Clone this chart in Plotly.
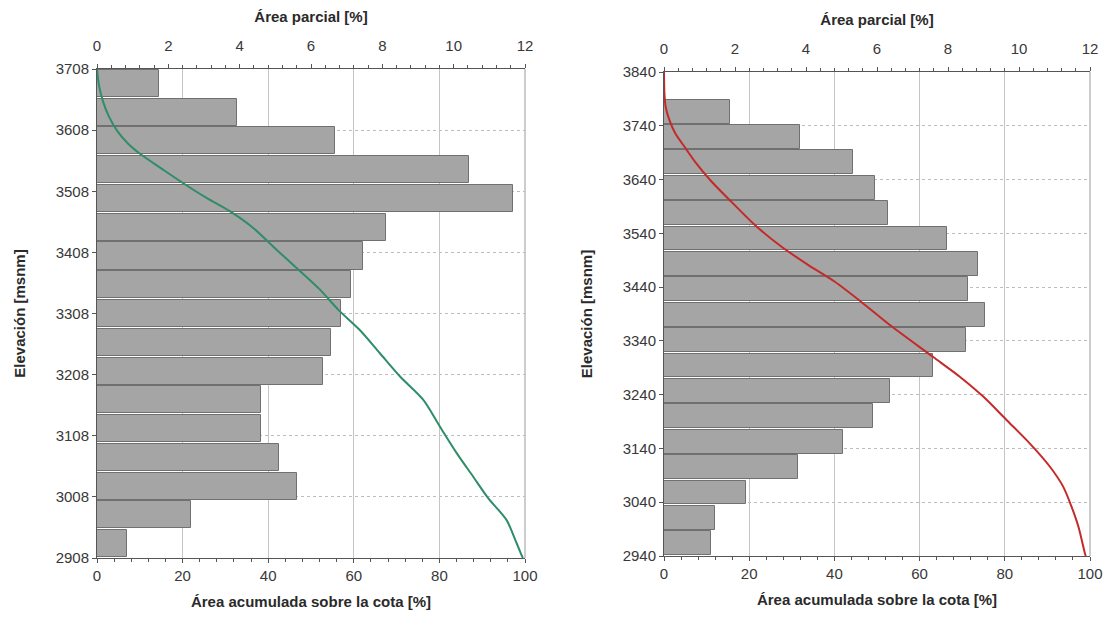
import plotly.graph_objects as go

# ---------------- data ----------------
# Left basin: partial area per elevation band (bars), band centres [msnm]
elev_bins_L = [3684.5, 3637.4, 3590.4, 3543.3, 3496.2, 3449.2, 3402.1, 3355.1, 3308.0,
               3260.9, 3213.9, 3166.8, 3119.8, 3072.7, 3025.6, 2978.6, 2931.5]
partial_L = [1.73, 3.92, 6.68, 10.43, 11.65, 8.10, 7.47, 7.12, 6.83,
             6.56, 6.34, 4.60, 4.60, 5.11, 5.62, 2.63, 0.83]
# Left basin: cumulative area above elevation (curve)
elev_cum_L = [3708, 3680, 3655, 3630, 3606, 3585, 3568, 3543, 3519, 3497, 3475, 3448, 3412, 3382, 3347,
              3314, 3281, 3243, 3205, 3167, 3123, 3080, 3041, 3006, 2970, 2938, 2916, 2908]
cum_L = [0, 0.5, 1.4, 2.8, 4.8, 7.4, 10.3, 15.5, 20.6, 25.6, 31.1, 36.5, 42.0, 46.7, 52.1,
         56.4, 61.4, 66.1, 70.8, 76.2, 80.1, 84.0, 87.9, 91.4, 95.7, 97.7, 99.0, 99.5]

# Right basin
elev_bins_R = [3766.4, 3719.2, 3671.9, 3624.7, 3577.5, 3530.3, 3483.1, 3435.8, 3388.6,
               3341.4, 3294.2, 3247.0, 3199.7, 3152.5, 3105.3, 3058.1, 3010.9, 2963.6]
partial_R = [1.87, 3.83, 5.31, 5.93, 6.32, 7.97, 8.84, 8.56, 9.04,
             8.52, 7.58, 6.37, 5.88, 5.05, 3.78, 2.30, 1.43, 1.31]
elev_cum_R = [3840, 3800, 3775, 3750, 3725, 3700, 3673, 3636, 3598, 3555, 3515, 3481, 3450, 3412,
              3369, 3310, 3273, 3236, 3193, 3149, 3106, 3069, 3031, 2994, 2945, 2940]
cum_R = [0, 0.1, 0.4, 1.3, 2.7, 4.9, 7.3, 11.2, 15.9, 21.4, 27.6, 33.9, 40.1, 46.4,
         53.1, 63.2, 69.5, 75.0, 80.4, 85.9, 90.6, 93.7, 95.7, 97.3, 98.8, 99.0]

bin_width_L = 800 / 17
bin_width_R = 850 / 18

# ---------------- styles ----------------
FONT = "Liberation Sans, Arial, sans-serif"
TXT = "#2a2a2a"
BAR_FILL = "#a5a5a5"
BAR_EDGE = "#707070"
GRID = "#c4c4c4"
AXLINE = "#555555"

W, H = 1095, 605  # page body has an 8px margin

fig = go.Figure()

# bars on the base (top, 0-12) axis, curves on the overlaying (bottom, 0-100) axis
fig.add_trace(go.Bar(x=partial_L, y=elev_bins_L, orientation="h",
                     width=bin_width_L * 0.94, xaxis="x", yaxis="y",
                     marker=dict(color=BAR_FILL, line=dict(color=BAR_EDGE, width=1)),
                     showlegend=False))
fig.add_trace(go.Scatter(x=cum_L, y=elev_cum_L, mode="lines", xaxis="x2", yaxis="y",
                         line=dict(color="#2f8d68", width=2, shape="spline", smoothing=0.8),
                         showlegend=False))
fig.add_trace(go.Bar(x=partial_R, y=elev_bins_R, orientation="h",
                     width=bin_width_R * 0.94, xaxis="x3", yaxis="y2",
                     marker=dict(color=BAR_FILL, line=dict(color=BAR_EDGE, width=1)),
                     showlegend=False))
fig.add_trace(go.Scatter(x=cum_R, y=elev_cum_R, mode="lines", xaxis="x4", yaxis="y2",
                         line=dict(color="#c42a2a", width=2, shape="spline", smoothing=0.8),
                         showlegend=False))

domL = [89 / W, 517 / W]
domR = [656 / W, 1082 / W]
ydomL = [1 - 550 / H, 1 - 61 / H]
ydomR = [1 - 548 / H, 1 - 64 / H]

tickfont = dict(family=FONT, size=15, color="#383838")
titlefont = dict(family=FONT, size=15, color=TXT, weight="bold")


def bottom_axis(overlay, anchor):
    return dict(overlaying=overlay, anchor=anchor, side="bottom", range=[0, 100],
                dtick=20, tick0=0, showgrid=True, gridcolor=GRID, gridwidth=1,
                zeroline=False, showline=True, linecolor=AXLINE, linewidth=1,
                ticks="outside", ticklen=4, tickcolor=AXLINE, tickfont=tickfont,
                minor=dict(dtick=4, ticks="outside", ticklen=3, tickcolor=AXLINE, showgrid=False),
                title=dict(text="Área acumulada sobre la cota [%]", font=titlefont, standoff=13),
                automargin=False, fixedrange=True)


def top_axis(domain, anchor):
    return dict(domain=domain, anchor=anchor, side="top", range=[0, 12],
                dtick=2, tick0=0, showgrid=False, zeroline=False, showline=True,
                linecolor=AXLINE, linewidth=1, ticks="outside", ticklen=4,
                tickcolor=AXLINE, tickfont=tickfont, ticklabelstandoff=7,
                minor=dict(dtick=0.4, ticks="outside", ticklen=3, tickcolor=AXLINE, showgrid=False),
                title=dict(text="Área parcial [%]", font=titlefont, standoff=10),
                automargin=False, fixedrange=True)


def y_axis(domain, anchor, rng):
    return dict(domain=domain, anchor=anchor, range=rng, dtick=100, tick0=rng[0],
                showgrid=True, gridcolor="#bdbdbd", griddash="dot", gridwidth=1,
                zeroline=False, showline=True, linecolor=AXLINE, linewidth=1,
                ticks="outside", ticklen=4, tickcolor=AXLINE, tickfont=tickfont,
                title=dict(text="Elevación [msnm]", font=titlefont, standoff=26),
                automargin=False, fixedrange=True)


fig.update_layout(
    width=W, height=H,
    margin=dict(l=0, r=0, t=0, b=0),
    paper_bgcolor="white", plot_bgcolor="white",
    bargap=0,
    xaxis=top_axis(domL, "y"),
    xaxis2=bottom_axis("x", "y"),
    xaxis3=top_axis(domR, "y2"),
    xaxis4=bottom_axis("x3", "y2"),
    yaxis=y_axis(ydomL, "x", [2908, 3708]),
    yaxis2=y_axis(ydomR, "x3", [2940, 3840]),
    font=dict(family=FONT, color=TXT),
)

# right frame line of each panel
for xd, yd in [(domL, ydomL), (domR, ydomR)]:
    fig.add_shape(type="line", xref="paper", yref="paper",
                  x0=xd[1], x1=xd[1], y0=yd[0], y1=yd[1],
                  line=dict(color="#9a9a9a", width=1), layer="below")

fig.write_html("out.html")
